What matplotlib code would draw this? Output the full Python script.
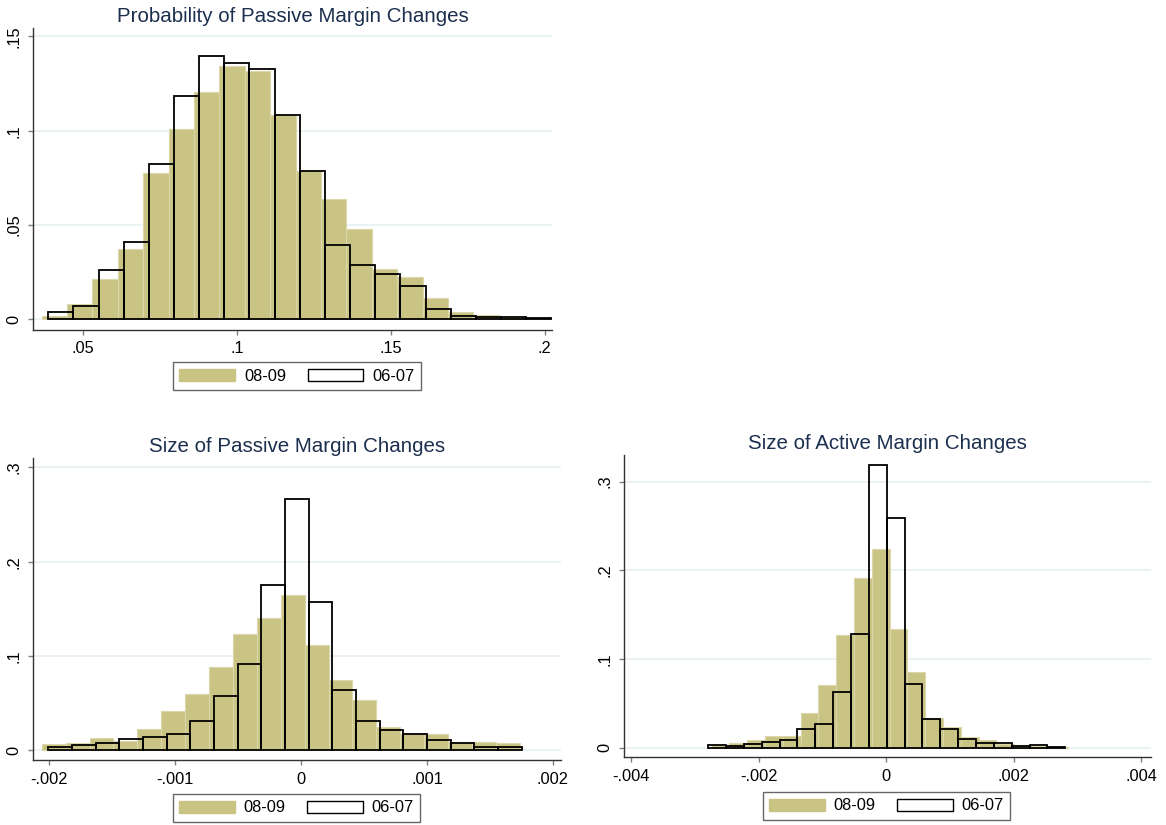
import matplotlib
matplotlib.use('Agg')
import matplotlib.pyplot as plt
from matplotlib.patches import Patch
import numpy as np

plt.rcParams['font.family'] = ['Liberation Sans', 'DejaVu Sans']

KHAKI = '#C9C384'
KHAKI_EDGE = '#DCD7AA'
TITLE_COLOR = '#1c2f4f'
GRID_COLOR = '#E8F0F1'

series_labels = ['08-09', '06-07']

# --- Probability of Passive Margin Changes ---
prob_title = 'Probability of Passive Margin Changes'
prob_new_start, prob_new_width = 0.0366, 0.00825
prob_old_start, prob_old_width = 0.03876, 0.00817
prob_new = [0.0017, 0.0080, 0.0216, 0.0371, 0.0774, 0.1009, 0.1203, 0.1343, 0.1318, 0.1083,
            0.0786, 0.0636, 0.0477, 0.0269, 0.0223, 0.0115, 0.0037, 0.0021, 0.0014, 0.0009]
prob_old = [0.0037, 0.0072, 0.0260, 0.0408, 0.0822, 0.1186, 0.1396, 0.1362, 0.1327, 0.1083,
            0.0788, 0.0396, 0.0290, 0.0240, 0.0178, 0.0053, 0.0019, 0.0014, 0.0014, 0.0007]
prob_xticks = [0.05, 0.1, 0.15, 0.2]
prob_xlabels = ['.05', '.1', '.15', '.2']
prob_yticks = [0, 0.05, 0.1, 0.15]
prob_ylabels = ['0', '.05', '.1', '.15']

# --- Size of Passive Margin Changes ---
pass_title = 'Size of Passive Margin Changes'
pass_new_start, pass_new_width = -0.00206, 0.0001898
pass_old_start, pass_old_width = -0.002008, 0.000188
pass_new = [0.0071, 0.0074, 0.0130, 0.0102, 0.0226, 0.0420, 0.0597, 0.0887, 0.1230, 0.1400,
            0.1650, 0.1117, 0.0749, 0.0534, 0.0250, 0.0177, 0.0177, 0.0085, 0.0088, 0.0074]
pass_old = [0.0032, 0.0053, 0.0074, 0.0117, 0.0145, 0.0177, 0.0315, 0.0576, 0.0912, 0.1756,
            0.2664, 0.1572, 0.0643, 0.0307, 0.0219, 0.0170, 0.0106, 0.0078, 0.0035, 0.0035]
pass_xticks = [-0.002, -0.001, 0, 0.001, 0.002]
pass_xlabels = ['-.002', '-.001', '0', '.001', '.002']
pass_yticks = [0, 0.1, 0.2, 0.3]
pass_ylabels = ['0', '.1', '.2', '.3']

# --- Size of Active Margin Changes ---
act_title = 'Size of Active Margin Changes'
act_new_start, act_new_width = -0.002742, 0.0002792
act_old_start, act_old_width = -0.002795, 0.00028
act_new = [0.0035, 0.0050, 0.0083, 0.0128, 0.0128, 0.0390, 0.0710, 0.1270, 0.1910, 0.2240,
           0.1340, 0.0850, 0.0340, 0.0233, 0.0120, 0.0083, 0.0045, 0.0026, 0.0020, 0.0010]
act_old = [0.0034, 0.0019, 0.0038, 0.0060, 0.0082, 0.0215, 0.0263, 0.0632, 0.1280, 0.3190,
           0.2590, 0.0720, 0.0320, 0.0214, 0.0097, 0.0052, 0.0052, 0.0023, 0.0034, 0.0008]
act_xticks = [-0.004, -0.002, 0, 0.002, 0.004]
act_xlabels = ['-.004', '-.002', '0', '.002', '.004']
act_yticks = [0, 0.1, 0.2, 0.3]
act_ylabels = ['0', '.1', '.2', '.3']

W, H = 1166, 825
fig = plt.figure(figsize=(W / 100, H / 100), dpi=100)


def px_axes(left, right, top, bottom):
    return fig.add_axes([left / W, 1 - bottom / H, (right - left) / W, (bottom - top) / H])


def draw_panel(ax, title, new_start, new_width, new_h, old_start, old_width, old_h,
               xticks, xlabels, yticks, ylabels, xlim, ylim):
    new_left = new_start + new_width * np.arange(len(new_h))
    old_left = old_start + old_width * np.arange(len(old_h))
    ax.bar(new_left, new_h, width=new_width, align='edge', color=KHAKI,
           edgecolor=KHAKI_EDGE, linewidth=0.8, zorder=2)
    ax.bar(old_left, old_h, width=old_width, align='edge', facecolor='none',
           edgecolor='black', linewidth=1.3, zorder=3)
    ax.set_xlim(*xlim)
    ax.set_ylim(*ylim)
    ax.set_xticks(xticks, xlabels)
    ax.set_yticks(yticks, ylabels)
    for lab in ax.get_yticklabels():
        lab.set_rotation(90)
        lab.set_va('center')
    ax.tick_params(direction='out', length=3.3, width=1, color='#808080',
                   labelsize=11.8, pad=5)
    ax.yaxis.grid(True, color=GRID_COLOR, linewidth=1.2)
    ax.set_axisbelow(True)
    for s in ['top', 'right']:
        ax.spines[s].set_visible(False)
    for s in ['left', 'bottom']:
        ax.spines[s].set_color('#333333')
        ax.spines[s].set_linewidth(1.0)
    ax.set_title(title, fontsize=14.8, color=TITLE_COLOR, pad=4)


def add_legend(cx, cy):
    handles = [Patch(facecolor=KHAKI, edgecolor=KHAKI),
               Patch(facecolor='white', edgecolor='black', linewidth=1)]
    leg = fig.legend(handles, series_labels, loc='center',
                     bbox_to_anchor=(cx / W, 1 - cy / H), ncol=2, frameon=True,
                     fancybox=False, edgecolor='#404040', fontsize=11.8,
                     handlelength=3.4, handleheight=0.8, handletextpad=0.55,
                     columnspacing=1.3, borderpad=0.37)
    leg.get_frame().set_linewidth(1.0)


ax1 = px_axes(33, 552, 28, 329.5)
draw_panel(ax1, prob_title, prob_new_start, prob_new_width, prob_new,
           prob_old_start, prob_old_width, prob_old,
           prob_xticks, prob_xlabels, prob_yticks, prob_ylabels,
           (0.0338, 0.2024), (-0.0054, 0.1545))
add_legend(297, 376)

ax2 = px_axes(33, 561, 458, 760)
draw_panel(ax2, pass_title, pass_new_start, pass_new_width, pass_new,
           pass_old_start, pass_old_width, pass_old,
           pass_xticks, pass_xlabels, pass_yticks, pass_ylabels,
           (-0.00213, 0.002064), (-0.0103, 0.310))
add_legend(296.5, 808)

ax3 = px_axes(623.7, 1151, 455, 757)
draw_panel(ax3, act_title, act_new_start, act_new_width, act_new,
           act_old_start, act_old_width, act_old,
           act_xticks, act_xlabels, act_yticks, act_ylabels,
           (-0.00412, 0.00415), (-0.0105, 0.330))
add_legend(886.5, 806)

fig.savefig('out.png', dpi=100, facecolor='white')
